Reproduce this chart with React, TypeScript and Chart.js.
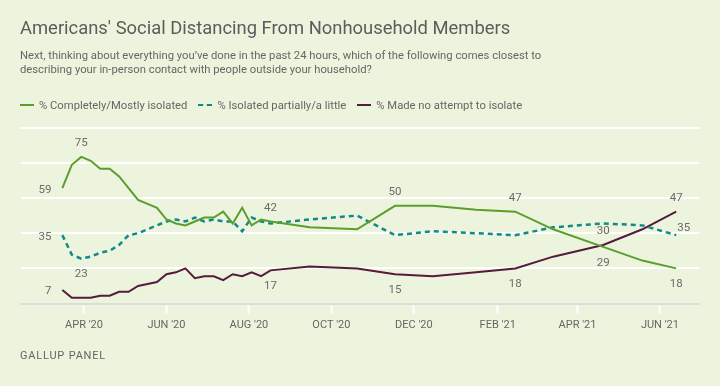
import React, { useEffect, useRef } from "react";
import { Chart, registerables } from "chart.js";

Chart.register(...registerables);

// ---- data ----
const surveyDates = [
  "2020-03-16", "2020-03-23", "2020-03-30", "2020-04-06", "2020-04-13", "2020-04-20",
  "2020-04-27", "2020-05-04", "2020-05-11", "2020-05-18", "2020-05-25", "2020-06-01",
  "2020-06-08", "2020-06-15", "2020-06-22", "2020-06-29", "2020-07-06", "2020-07-13",
  "2020-07-20", "2020-07-27", "2020-08-03", "2020-08-10", "2020-08-17", "2020-09-15",
  "2020-10-20", "2020-11-17", "2020-12-15", "2021-01-16", "2021-02-14", "2021-03-14",
  "2021-04-20", "2021-05-19", "2021-06-13",
];
const completelyIsolated = [
  59, 71, 75, 73, 69, 69, 65, 59, 53, 51, 49, 43, 41, 40, 42, 44, 44, 47, 41, 49, 40, 43, 42,
  39, 38, 50, 50, 48, 47, 38, 29, 22, 18,
];
const partiallyIsolated = [
  35, 25, 23, 24, 26, 27, 30, 35, 36, 38, 40, 42, 43, 42, 44, 42, 43, 42, 42, 37, 44, 42, 41,
  43, 45, 35, 37, 36, 35, 39, 41, 40, 35,
];
const noAttempt = [
  7, 3, 3, 3, 4, 4, 6, 6, 9, 10, 11, 15, 16, 18, 13, 14, 14, 12, 15, 14, 16, 14, 17,
  19, 18, 15, 14, 16, 18, 24, 30, 38, 47,
];
const tickDates = [
  "2020-04-01", "2020-06-01", "2020-08-01", "2020-10-01",
  "2020-12-01", "2021-02-01", "2021-04-01", "2021-06-01",
];
const tickLabels = ["APR '20", "JUN '20", "AUG '20", "OCT '20", "DEC '20", "FEB '21", "APR '21", "JUN '21"];
const seriesNames = ["% Completely/Mostly isolated", "% Isolated partially/a little", "% Made no attempt to isolate"];

// which points carry a value label, and where
const greenLabels: [number, string][] = [[0, "left"], [2, "top"], [22, "top"], [25, "top"], [28, "top"], [30, "bottom"], [32, "bottom"]];
const tealLabels: [number, string][] = [[0, "left"], [2, "bottom"], [32, "right"]];
const purpleLabels: [number, string][] = [[0, "left"], [22, "bottom"], [25, "bottom"], [28, "bottom"], [30, "top"], [32, "top"]];

const GREEN = "#5a9e2e";
const TEAL = "#128a8a";
const PURPLE = "#561a3c";
const BG = "#edf4dd";
const TEXT = "#666666";

const BASE = Date.UTC(2020, 3, 1);
const toDay = (s: string) => {
  const [y, m, d] = s.split("-").map(Number);
  return (Date.UTC(y, m - 1, d) - BASE) / 86400000;
};

const labelPlugin = {
  id: "valueLabels",
  afterDatasetsDraw(chart: any) {
    const ctx = chart.ctx;
    const xs = chart.scales.x;
    const ys = chart.scales.y;
    const specs = [greenLabels, tealLabels, purpleLabels];
    ctx.save();
    ctx.font = "11.5px Roboto";
    ctx.fillStyle = "#6a6a6a";
    chart.data.datasets.forEach((ds: any, di: number) => {
      specs[di].forEach(([idx, pos]) => {
        const pt = ds.data[idx];
        const px = xs.getPixelForValue(pt.x);
        const py = ys.getPixelForValue(pt.y);
        const txt = String(pt.y);
        ctx.textBaseline = "middle";
        if (pos === "top") {
          ctx.textAlign = "center";
          ctx.fillText(txt, px, py - 13.5);
        } else if (pos === "bottom") {
          ctx.textAlign = "center";
          ctx.fillText(txt, px, py + 16);
        } else if (pos === "left") {
          ctx.textAlign = "right";
          ctx.fillText(txt, px - 11, py + 1.5);
        } else {
          ctx.textAlign = "left";
          ctx.fillText(txt, px + 1, py - 7);
        }
      });
    });
    ctx.restore();
  },
};

export default function App() {
  const ref = useRef<HTMLCanvasElement | null>(null);

  useEffect(() => {
    if (!ref.current) return;
    const days = surveyDates.map(toDay);
    const mk = (vals: number[]) => vals.map((v, i) => ({ x: days[i], y: v }));
    const tickVals = tickDates.map(toDay);
    const chart = new Chart(ref.current, {
      type: "line",
      data: {
        datasets: [
          { label: seriesNames[0], data: mk(completelyIsolated), borderColor: GREEN, borderWidth: 2, pointRadius: 0, tension: 0, fill: false },
          { label: seriesNames[1], data: mk(partiallyIsolated), borderColor: TEAL, borderWidth: 2.5, borderDash: [5, 4], pointRadius: 0, tension: 0, fill: false },
          { label: seriesNames[2], data: mk(noAttempt), borderColor: PURPLE, borderWidth: 2, pointRadius: 0, tension: 0, fill: false },
        ],
      },
      options: {
        animation: false,
        responsive: false,
        events: [],
        layout: { padding: { left: 20.7, right: 20.7, top: 127.6, bottom: 42.4 } },
        plugins: { legend: { display: false }, tooltip: { enabled: false } },
        scales: {
          x: {
            type: "linear",
            min: -46.8,
            max: 455.1,
            afterBuildTicks: (s: any) => {
              s.ticks = tickVals.map((v) => ({ value: v }));
            },
            afterFit: (s: any) => {
              s.height = 40;
            },
            ticks: {
              autoSkip: false,
              maxRotation: 0,
              padding: 5,
              color: TEXT,
              font: { family: "Roboto", size: 11 },
              callback: (v: any) => {
                const i = tickVals.indexOf(Number(v));
                return i >= 0 ? tickLabels[i] : "";
              },
            },
            grid: { drawOnChartArea: false, drawTicks: true, tickLength: 10, tickColor: "#ffffff", tickWidth: 2 },
            border: { display: true, color: "#dcdcdc", width: 2 },
          },
          y: {
            min: 0,
            max: 90,
            afterFit: (s: any) => {
              s.width = 0;
            },
            ticks: { display: false, stepSize: 18 },
            grid: {
              drawTicks: false,
              lineWidth: 2,
              color: (c: any) => (c.tick && c.tick.value === 0 ? "rgba(0,0,0,0)" : "#ffffff"),
            },
            border: { display: false },
          },
        },
      },
      plugins: [labelPlugin],
    });
    return () => chart.destroy();
  }, []);

  const legendLine = (color: string, dashed: boolean) => (
    <span
      style={{
        display: "inline-block",
        width: 14,
        height: 0,
        borderTop: dashed ? `2.5px dashed ${color}` : `2.5px solid ${color}`,
        marginRight: 5,
      }}
    />
  );

  return (
    <div style={{ position: "fixed", left: 0, top: 0, width: 720, height: 386, background: BG, fontFamily: "Roboto, sans-serif", overflow: "hidden" }}>
      <canvas ref={ref} width={720} height={386} style={{ position: "absolute", left: 0, top: 0, width: 720, height: 386 }} />
      <div style={{ position: "absolute", left: 20, top: 17, fontSize: 18.4, lineHeight: "21px", color: "#5c5c5c", whiteSpace: "nowrap" }}>
        Americans' Social Distancing From Nonhousehold Members
      </div>
      <div style={{ position: "absolute", left: 20, top: 49, width: 600, fontSize: 11.25, lineHeight: "14px", color: TEXT, whiteSpace: "nowrap" }}>
        Next, thinking about everything you’ve done in the past 24 hours, which of the following comes closest to
        <br />
        describing your in-person contact with people outside your household?
      </div>
      <div style={{ position: "absolute", left: 20, top: 98, height: 14, display: "flex", alignItems: "center", fontSize: 11.25, color: TEXT, whiteSpace: "nowrap" }}>
        {legendLine(GREEN, false)}
        <span style={{ marginRight: 11 }}>{seriesNames[0]}</span>
        {legendLine(TEAL, true)}
        <span style={{ marginRight: 11 }}>{seriesNames[1]}</span>
        {legendLine(PURPLE, false)}
        <span>{seriesNames[2]}</span>
      </div>
      <div style={{ position: "absolute", left: 20, top: 349, fontSize: 11, lineHeight: "14px", letterSpacing: "0.8px", color: TEXT }}>
        GALLUP PANEL
      </div>
    </div>
  );
}
